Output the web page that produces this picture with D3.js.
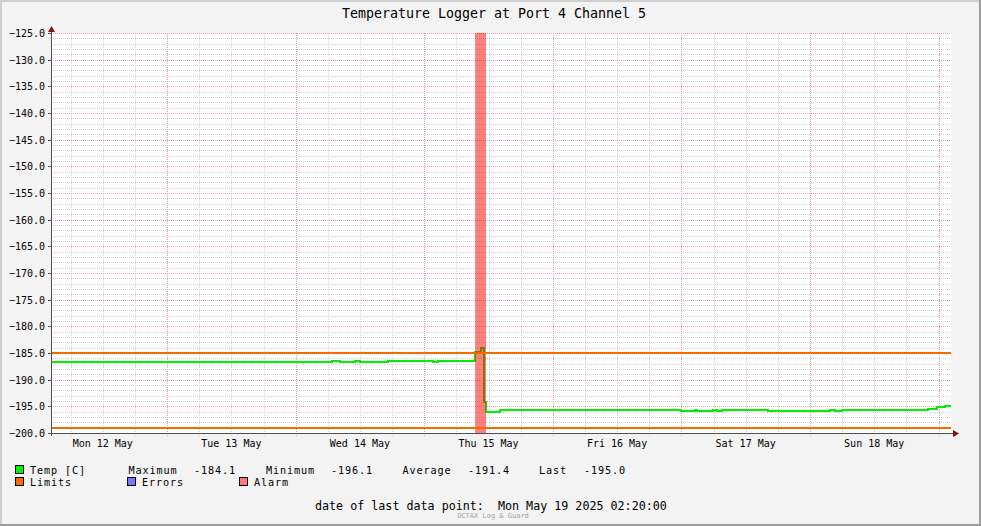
<!DOCTYPE html>
<html><head><meta charset="utf-8">
<script src="https://cdn.jsdelivr.net/npm/d3@7"></script>
<style>html,body{margin:0;padding:0;background:#f3f3f3}svg{display:block}</style>
</head><body>
<svg id="c" width="981" height="526"></svg>
<script>
// ---- data ----
const title = "Temperature Logger at Port 4 Channel 5";
const timeStart = "2025-05-12T02:20:00Z";
const timeEnd = "2025-05-19T02:20:00Z";
const tempTimes = [
  "2025-05-12T02:20:00Z","2025-05-14T06:50:00Z","2025-05-14T08:15:00Z","2025-05-14T11:05:00Z",
  "2025-05-14T12:00:00Z","2025-05-14T17:15:00Z","2025-05-15T01:40:00Z","2025-05-15T02:35:00Z",
  "2025-05-15T09:30:00Z","2025-05-15T10:35:00Z","2025-05-15T11:10:00Z","2025-05-15T11:30:00Z",
  "2025-05-15T14:05:00Z","2025-05-16T23:30:00Z","2025-05-16T23:55:00Z","2025-05-17T02:30:00Z",
  "2025-05-17T02:55:00Z","2025-05-17T05:55:00Z","2025-05-17T06:40:00Z","2025-05-17T07:40:00Z",
  "2025-05-17T16:10:00Z","2025-05-18T03:45:00Z","2025-05-18T04:40:00Z","2025-05-18T06:00:00Z",
  "2025-05-18T22:00:00Z","2025-05-18T23:45:00Z","2025-05-19T01:15:00Z","2025-05-19T02:20:00Z"
];
const tempValues = [
  -186.7,-186.5,-186.7,-186.5,
  -186.7,-186.45,-186.65,-186.45,
  -184.75,-184.1,-194.1,-196.1,
  -195.75,-195.65,-195.8,-195.68,
  -195.8,-195.68,-195.8,-195.69,
  -195.81,-195.6,-195.8,-195.69,
  -195.44,-195.06,-194.95,-194.95
];
const limitValues = [-185, -199];
const alarmStart = "2025-05-15T09:30:00Z";
const alarmEnd = "2025-05-15T11:32:00Z";
const yTicks = [-200,-195,-190,-185,-180,-175,-170,-165,-160,-155,-150,-145,-140,-135,-130,-125];
const xLabelDates = ["2025-05-12T12:00:00Z","2025-05-13T12:00:00Z","2025-05-14T12:00:00Z","2025-05-15T12:00:00Z","2025-05-16T12:00:00Z","2025-05-17T12:00:00Z","2025-05-18T12:00:00Z"];
const xLabels = ["Mon 12 May","Tue 13 May","Wed 14 May","Thu 15 May","Fri 16 May","Sat 17 May","Sun 18 May"];
const legendStats = [["Maximum","-184.1"],["Minimum","-196.1"],["Average","-191.4"],["Last","-195.0"]];
const legendItems = ["Temp [C]","Limits","Errors","Alarm"];
const footer = "date of last data point:  Mon May 19 2025 02:20:00";
const credit = "OCTAX Log & Guard";

// ---- chart ----
const W = 981, H = 526;
const L = 51, R = 951, T = 33, B = 433;
const svg = d3.select("#c");
const mono = "'DejaVu Sans Mono', monospace";
const cGreen = "#00f000", cOrange = "#f46c00", cBlue = "#7777ff", cAlarm = "#ff7777";

// frame
svg.append("rect").attr("x",0).attr("y",0).attr("width",W).attr("height",H).attr("fill","#f3f3f3");
svg.append("rect").attr("x",0).attr("y",0).attr("width",W).attr("height",2).attr("fill","#cfcfcf");
svg.append("rect").attr("x",0).attr("y",0).attr("width",2).attr("height",H).attr("fill","#cfcfcf");
svg.append("rect").attr("x",W-2).attr("y",0).attr("width",2).attr("height",H).attr("fill","#9e9e9e");
svg.append("rect").attr("x",0).attr("y",H-2).attr("width",W).attr("height",2).attr("fill","#9e9e9e");

const x = d3.scaleUtc().domain([new Date(timeStart), new Date(timeEnd)]).range([L, R]);
const y = d3.scaleLinear().domain([-200, -125]).range([B, T]);

svg.append("rect").attr("x",L).attr("y",T).attr("width",R-L).attr("height",B-T).attr("fill","#ffffff");

const g = svg.append("g").attr("shape-rendering","crispEdges");
// minor y grid
const yMinor = d3.range(-200, -124, 1).filter(v => v % 5 !== 0);
g.selectAll(".ymin").data(yMinor).join("line")
  .attr("x1",L).attr("x2",R).attr("y1",d=>Math.round(y(d))+0.5).attr("y2",d=>Math.round(y(d))+0.5)
  .attr("stroke","#d4d4d4").attr("stroke-dasharray","1,1");
// minor x grid (6h)
const xMinor = d3.utcHour.every(6).range(x.domain()[0], x.domain()[1]).filter(d => d.getUTCHours() !== 0);
g.selectAll(".xmin").data(xMinor).join("line")
  .attr("x1",d=>Math.round(x(d))+0.5).attr("x2",d=>Math.round(x(d))+0.5).attr("y1",T).attr("y2",B+3)
  .attr("stroke","#d4d4d4").attr("stroke-dasharray","1,1");
// major grid
g.selectAll(".ymaj").data(yTicks.filter(v=>v>-200)).join("line")
  .attr("x1",L).attr("x2",R).attr("y1",d=>Math.round(y(d))+0.5).attr("y2",d=>Math.round(y(d))+0.5)
  .attr("stroke","#e8a0a0").attr("stroke-dasharray","1,1");
const xMajor = d3.utcDay.range(x.domain()[0], x.domain()[1]);
g.selectAll(".xmaj").data(xMajor).join("line")
  .attr("x1",d=>Math.round(x(d))+0.5).attr("x2",d=>Math.round(x(d))+0.5).attr("y1",T).attr("y2",B+3)
  .attr("stroke","#e8a0a0").attr("stroke-dasharray","1,1");

// temp line
const pts = tempTimes.map((t,i)=>({t:new Date(t), v:tempValues[i]}));
const line = d3.line().x(d=>x(d.t)).y(d=>y(d.v)).curve(d3.curveStepAfter);
svg.append("path").datum(pts).attr("d",line).attr("fill","none")
  .attr("stroke",cGreen).attr("stroke-width",2).attr("shape-rendering","crispEdges");

// alarm band
svg.append("rect").attr("x",x(new Date(alarmStart))).attr("y",T)
  .attr("width",x(new Date(alarmEnd))-x(new Date(alarmStart))).attr("height",B-T)
  .attr("fill","rgba(255,0,0,0.5)");

// limits
svg.selectAll(".lim").data(limitValues).join("line")
  .attr("x1",L).attr("x2",R).attr("y1",d=>y(d)).attr("y2",d=>y(d))
  .attr("stroke",cOrange).attr("stroke-width",2).attr("shape-rendering","crispEdges");

// axes
const ax = svg.append("g").attr("shape-rendering","crispEdges");
ax.append("line").attr("x1",L+0.5).attr("x2",L+0.5).attr("y1",B+3).attr("y2",T-4).attr("stroke","#505050");
ax.append("line").attr("x1",L-3).attr("x2",R+3).attr("y1",B+0.5).attr("y2",B+0.5).attr("stroke","#505050");
ax.selectAll(".yt").data(yTicks).join("line")
  .attr("x1",L-3).attr("x2",L).attr("y1",d=>Math.round(y(d))+0.5).attr("y2",d=>Math.round(y(d))+0.5)
  .attr("stroke","#505050");
svg.append("path").attr("d",`M${L+0.5},${T-7} L${L-3},${T-1} L${L+4},${T-1} Z`).attr("fill","#8b1010");
svg.append("path").attr("d",`M${R+8},${B+0.5} L${R+2},${B-3} L${R+2},${B+4} Z`).attr("fill","#8b1010");

// y labels
svg.selectAll(".yl").data(yTicks).join("text")
  .attr("x",45).attr("y",d=>y(d)+4).attr("text-anchor","end")
  .attr("font-family",mono).attr("font-size","10px").attr("fill","#000")
  .text(d=>d3.format(".1f")(d));
// x labels
svg.selectAll(".xl").data(xLabelDates).join("text")
  .attr("x",d=>x(new Date(d))).attr("y",447).attr("text-anchor","middle")
  .attr("font-family",mono).attr("font-size","10px").attr("fill","#000")
  .text((d,i)=>xLabels[i]);

// title
svg.append("text").attr("x",494).attr("y",18).attr("text-anchor","middle")
  .attr("font-family",mono).attr("font-size","13.3px").attr("fill","#000").text(title);

// legend
const lf = "10.2px";
function sq(xp, yp, col){
  svg.append("rect").attr("x",xp+0.5).attr("y",yp+0.5).attr("width",8).attr("height",8)
    .attr("fill",col).attr("stroke","#000").attr("shape-rendering","crispEdges");
}
function tx(xp, yp, s){
  svg.append("text").attr("x",xp).attr("y",yp).attr("font-family",mono).attr("font-size",lf)
    .attr("letter-spacing","0.85px").attr("fill","#000").attr("xml:space","preserve").text(s);
}
sq(15,465,cGreen); tx(30,474,legendItems[0]);
const statX = [[128.5,194],[266,331],[402.5,468],[539,584]];
legendStats.forEach((s,i)=>{ tx(statX[i][0],474,s[0]); tx(statX[i][1],474,s[1]); });
sq(15,477,cOrange); tx(30,486,legendItems[1]);
sq(127,477,cBlue); tx(142,486,legendItems[2]);
sq(239,477,cAlarm); tx(254,486,legendItems[3]);

svg.append("text").attr("x",315).attr("y",510).attr("font-family",mono).attr("font-size","11.7px")
  .attr("fill","#000").attr("xml:space","preserve").text(footer);
svg.append("text").attr("x",493).attr("y",518).attr("text-anchor","middle").attr("font-family",mono)
  .attr("font-size","7px").attr("fill","#a0a0a0").text(credit);
</script>
</body></html>
